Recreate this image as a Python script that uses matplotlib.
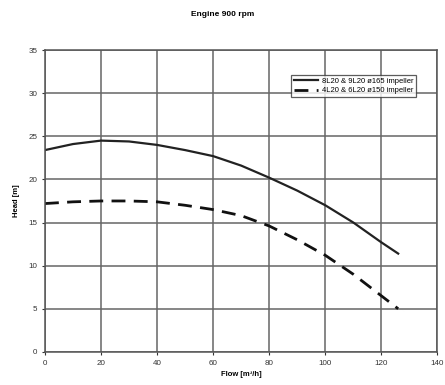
import matplotlib
matplotlib.use("Agg")
import matplotlib.pyplot as plt

plt.rcParams['font.family'] = ['Liberation Sans', 'DejaVu Sans']

title = "Engine 900 rpm"
flow = [0, 10, 20, 30, 40, 50, 60, 70, 80, 90, 100, 110, 120, 126]
head_165 = [23.4, 24.1, 24.5, 24.4, 24.0, 23.4, 22.7, 21.6, 20.2, 18.7, 17.0, 15.0, 12.7, 11.4]
head_150 = [17.2, 17.4, 17.5, 17.5, 17.4, 17.0, 16.5, 15.8, 14.6, 13.0, 11.2, 9.0, 6.5, 5.0]
label_165 = "8L20 & 9L20 ø165 impeller"
label_150 = "4L20 & 6L20 ø150 impeller"
xticks = [0, 20, 40, 60, 80, 100, 120, 140]
yticks = [0, 5, 10, 15, 20, 25, 30, 35]

fig = plt.figure(figsize=(4.45, 3.85), dpi=100)
ax = fig.add_axes([0.101, 0.086, 0.882, 0.784])
ax.plot(flow, head_165, color='#222222', lw=1.6, label=label_165)
ax.plot(flow, head_150, color='#111111', lw=2.0, ls=(0, (5, 3)), label=label_150)
ax.set_xlim(0, 140)
ax.set_ylim(0, 35)
ax.set_xticks(xticks)
ax.set_yticks(yticks)
ax.grid(True, color='#666666', lw=1.1)
ax.tick_params(labelsize=5.8, length=2, colors='#333333')
for s in ax.spines.values():
    s.set_color('#555555')
    s.set_linewidth(1.1)
ax.set_xlabel("Flow [m³/h]", fontsize=5.5, fontweight='bold', labelpad=3)
ax.set_ylabel("Head [m]", fontsize=5.5, fontweight='bold', labelpad=6)
fig.text(0.5, 0.962, title, ha='center', va='center', fontsize=6, fontweight='bold')
leg = ax.legend(loc='upper right', bbox_to_anchor=(0.955, 0.93), fontsize=5.5,
                frameon=True, fancybox=False, edgecolor='#333333', handlelength=3.2,
                borderpad=0.35, labelspacing=0.25, handletextpad=0.5)
leg.get_frame().set_linewidth(0.9)
fig.savefig("out.png", dpi=100)
